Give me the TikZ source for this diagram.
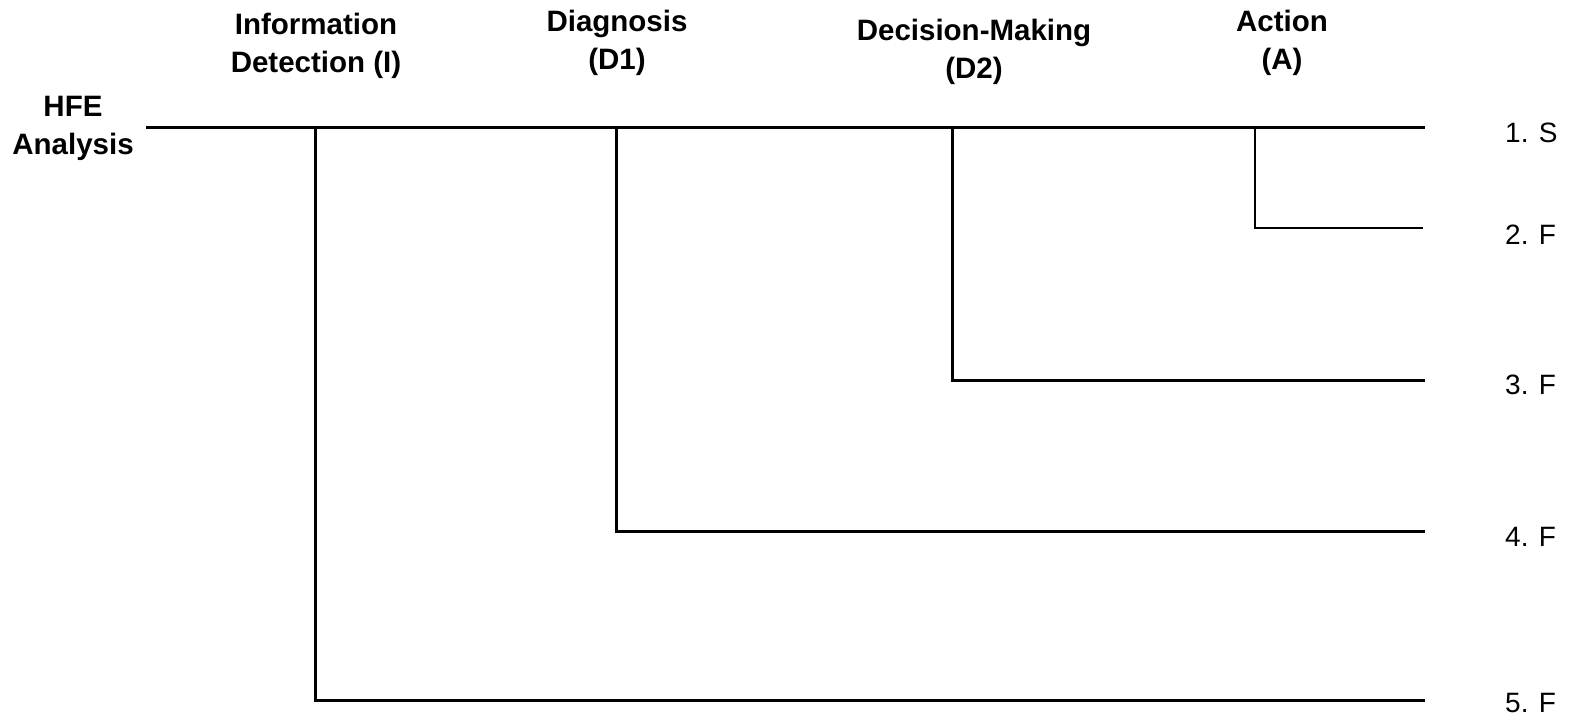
\documentclass[tikz,border=0pt]{standalone}
\usepackage{fontspec}
\setmainfont{Liberation Sans}
\begin{document}
\begin{tikzpicture}[x=1pt,y=-1pt,
  head/.style={font=\fontsize{29.5}{38}\selectfont\bfseries, align=center, inner sep=0pt},
  outc/.style={font=\fontsize{28}{32}\selectfont, anchor=west, inner sep=0pt},
  thick line/.style={line width=3pt, line cap=rect},
  thin line/.style={line width=1.7pt},
  every node/.style={text=black}]
\useasboundingbox (0,0) rectangle (1571,723);
% headers
\node[head] (hI) at (316,46) {Information\\Detection (I)};
\node[head] (hD1) at (617,43) {Diagnosis\\(D1)};
\node[head] (hD2) at (974,52) {Decision-Making\\(D2)};
\node[head] (hA) at (1282,43) {Action\\(A)};
\node[head] (hHFE) at (73,128) {HFE\\Analysis};
% coordinates
\coordinate (s) at (147,127);
\coordinate (e1) at (1423,127);
\coordinate (bI) at (315,127);
\coordinate (bD1) at (616,127);
\coordinate (bD2) at (952,127);
\coordinate (bA) at (1255,127);
\coordinate (cA) at (1255,228);
\coordinate (e2) at (1423,228);
\coordinate (cD2) at (952,380);
\coordinate (e3) at (1423,380);
\coordinate (cD1) at (616,531);
\coordinate (e4) at (1423,531);
\coordinate (cI) at (315,700);
\coordinate (e5) at (1423,700);
% lines
\draw[thick line] (s) -- (e1);
\draw[thick line] (bI) -- (cI) -- (e5);
\draw[thick line] (bD1) -- (cD1) -- (e4);
\draw[thick line] (bD2) -- (cD2) -- (e3);
\draw[thin line] (bA) -- (cA) -- (e2);
% outcomes
\node[outc] (o1) at (1505,133) {1. S};
\node[outc] (o2) at (1505,235) {2. F};
\node[outc] (o3) at (1505,385) {3. F};
\node[outc] (o4) at (1505,537) {4. F};
\node[outc] (o5) at (1505,703) {5. F};
\end{tikzpicture}
\end{document}
